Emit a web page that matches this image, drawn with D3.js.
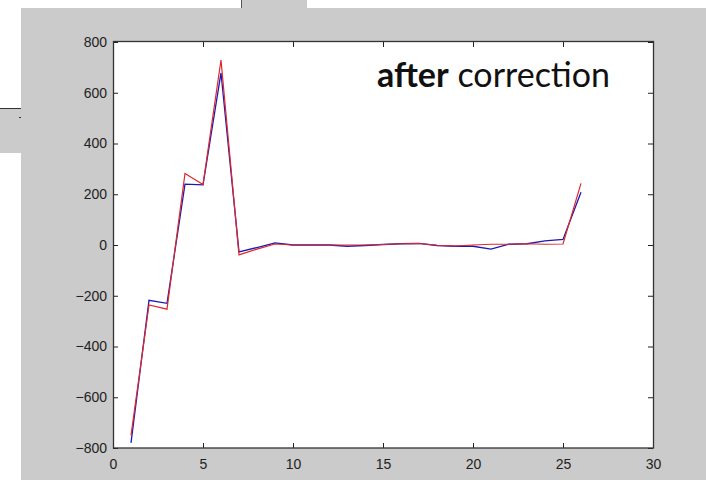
<!DOCTYPE html>
<html>
<head>
<meta charset="utf-8">
<script src="https://cdn.jsdelivr.net/npm/d3@7"></script>
<style>
  html, body { margin: 0; padding: 0; background: #ffffff; }
  svg { display: block; }
</style>
</head>
<body>
<svg id="chart" width="706" height="480"></svg>
<script>
// ---- data ----
const xValues = [1,2,3,4,5,6,7,8,9,10,11,12,13,14,15,16,17,18,19,20,21,22,23,24,25,26];
const blueSeries = [-780,-218,-230,240,237,678,-27,-10,8,0,0,0,-5,-2,2,5,6,-2,-5,-5,-16,3,5,16,22,208];
const redSeries  = [-750,-236,-253,282,238,729,-39,-16,4,0,0,0,0,0,2,5,6,-1,-4,0,3,3,5,3,4,243];
const xTicks = [0,5,10,15,20,25,30];
const yTicks = [-800,-600,-400,-200,0,200,400,600,800];
const titleBold = "after";
const titleRest = " correction";

(function () {
const svg = d3.select("#chart");

// background panels (figure window look)
svg.append("rect").attr("x",21).attr("y",8).attr("width",685).attr("height",472).attr("fill","#cbcbcb");
svg.append("rect").attr("x",241).attr("y",0).attr("width",66).attr("height",8).attr("fill","#cbcbcb");
svg.append("line").attr("x1",241.5).attr("x2",241.5).attr("y1",0).attr("y2",8).attr("stroke","#555").attr("stroke-width",1);
svg.append("rect").attr("x",0).attr("y",108).attr("width",21).attr("height",45).attr("fill","#cbcbcb");
svg.append("line").attr("x1",0).attr("x2",21).attr("y1",108.5).attr("y2",108.5).attr("stroke","#333").attr("stroke-width",1);
svg.append("line").attr("x1",19).attr("x2",21).attr("y1",117.5).attr("y2",117.5).attr("stroke","#333").attr("stroke-width",1);

const mLeft = 113, mRight = 653, mTop = 42, mBottom = 448;
const x = d3.scaleLinear().domain([0,30]).range([mLeft,mRight]);
const y = d3.scaleLinear().domain([-800,800]).range([mBottom,mTop]);

// plot area
svg.append("rect").attr("x",mLeft).attr("y",mTop).attr("width",mRight-mLeft).attr("height",mBottom-mTop).attr("fill","#ffffff");

// axes
const fontFam = "'Liberation Sans', Arial, Helvetica, sans-serif";
const gx = svg.append("g").attr("transform",`translate(0,${mBottom})`)
  .call(d3.axisBottom(x).tickValues(xTicks).tickSize(-5).tickPadding(11).tickFormat(d3.format("d")));
const gxTop = svg.append("g").attr("transform",`translate(0,${mTop})`)
  .call(d3.axisTop(x).tickValues(xTicks).tickSize(-5).tickFormat(""));
const gy = svg.append("g").attr("transform",`translate(${mLeft},0)`)
  .call(d3.axisLeft(y).tickValues(yTicks).tickSize(-5).tickPadding(6).tickFormat(d3.format("d")));
const gyR = svg.append("g").attr("transform",`translate(${mRight},0)`)
  .call(d3.axisRight(y).tickValues(yTicks).tickSize(-5).tickFormat(""));

[gx,gxTop,gy,gyR].forEach(g => {
  g.select(".domain").remove();
  g.selectAll(".tick line").attr("stroke","#222").attr("stroke-width",1);
  g.selectAll(".tick text").attr("fill","#222").style("font-family",fontFam).style("font-size","14px");
});

// box
svg.append("rect").attr("x",mLeft+0.5).attr("y",mTop-0.5).attr("width",mRight-mLeft).attr("height",mBottom-mTop+0.5)
  .attr("fill","none").attr("stroke","#333").attr("stroke-width",1.3);

// lines
const line = d3.line().x(d => x(d[0])).y(d => y(d[1]));
svg.append("path").datum(xValues.map((v,i)=>[v,blueSeries[i]]))
  .attr("d",line).attr("fill","none").attr("stroke","#1a1ab8").attr("stroke-width",1.3);
svg.append("path").datum(xValues.map((v,i)=>[v,redSeries[i]]))
  .attr("d",line).attr("fill","none").attr("stroke","#e02828").attr("stroke-width",1.2);

// annotation
const t = svg.append("text").attr("x",377).attr("y",87)
  .style("font-family","Lato, 'Open Sans', sans-serif").style("font-size","34px").attr("fill","#111");
t.append("tspan").attr("font-weight","bold").text(titleBold);
t.append("tspan").text(titleRest);
})();
</script>
</body>
</html>
